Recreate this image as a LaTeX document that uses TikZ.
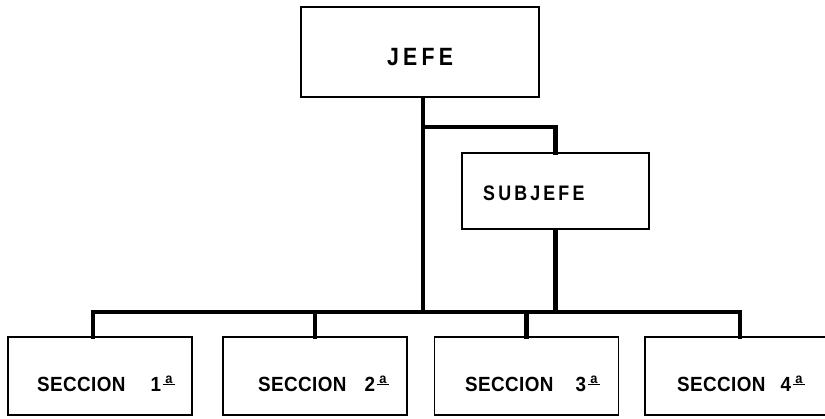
\documentclass[tikz,border=0pt]{standalone}
\usepackage{fontspec}
\usepackage{tikz}
\usetikzlibrary{calc,positioning}
\newfontfamily\lettering[FakeStretch=0.92,LetterSpace=2]{Liberation Sans}
\newfontfamily\jefelettering[FakeStretch=0.85,LetterSpace=17]{Liberation Sans}
\newfontfamily\subjefelettering[FakeStretch=0.85,LetterSpace=15]{Liberation Sans}
\newcommand\ordA{\hspace{2pt}\raisebox{8pt}{\fontsize{14}{14}\selectfont\underline{\,a\,}}}

\begin{document}
\begin{tikzpicture}[x=1pt,y=-1pt,
    orgbox/.style={draw=black,line width=1.6pt,fill=white,inner sep=0pt},
    seccbox/.style={orgbox,minimum width=184pt,minimum height=78pt},
    secctxt/.style={inner sep=0pt,anchor=base west,font=\lettering\bfseries\fontsize{20.5}{24}\selectfont},
    conn/.style={line width=4.6pt,line cap=rect}]
      \useasboundingbox (0,0) rectangle (825,418);
      \clip (0,0) rectangle (825,418);
      % Jefe
      \node[orgbox,minimum width=238pt,minimum height=90pt] (jefe) at (420,52) {};
      \node[inner sep=0pt,anchor=base west,font=\jefelettering\bfseries\fontsize{25}{28}\selectfont] (jefe-lbl) at (387,65) {JEFE};
      % Subjefe
      \node[orgbox,minimum width=187pt,minimum height=76pt] (subjefe) at (555.5,191) {};
      \node[inner sep=0pt,anchor=base west,font=\subjefelettering\bfseries\fontsize{21}{24}\selectfont] (subjefe-lbl) at (483,200) {SUBJEFE};
      % Secciones
      \node[seccbox] (s1) at (100,376) {};
      \node[seccbox] (s2) at (315,376) {};
      \node[seccbox] (s3) at (526.5,376) {};
      \node[seccbox,minimum width=190pt] (s4) at (740,376) {};
      \node[secctxt] (s1-lbl) at (37,391) {SECCION\hspace{25pt}1\ordA};
      \node[secctxt] (s2-lbl) at (258,391) {SECCION\hspace{18pt}2\ordA};
      \node[secctxt] (s3-lbl) at (465,391) {SECCION\hspace{22pt}3\ordA};
      \node[secctxt] (s4-lbl) at (677,391) {SECCION\hspace{15pt}4\ordA};
      % Lines
      \coordinate (bus) at (423,312);
      \coordinate (fork) at (423,127);
      \draw[conn] (fork |- jefe.south) -- (bus);
      \draw[conn] (fork) -| (subjefe.north);
      \draw[conn] (subjefe.south) -- (subjefe.south |- bus);
      \draw[conn] (s1.north -| 93,0) |- (bus) -| (s4.north);
      \draw[conn] (s2.north) -- (s2.north |- bus);
      \draw[conn] (s3.north) -- (s3.north |- bus);
\end{tikzpicture}
\end{document}
